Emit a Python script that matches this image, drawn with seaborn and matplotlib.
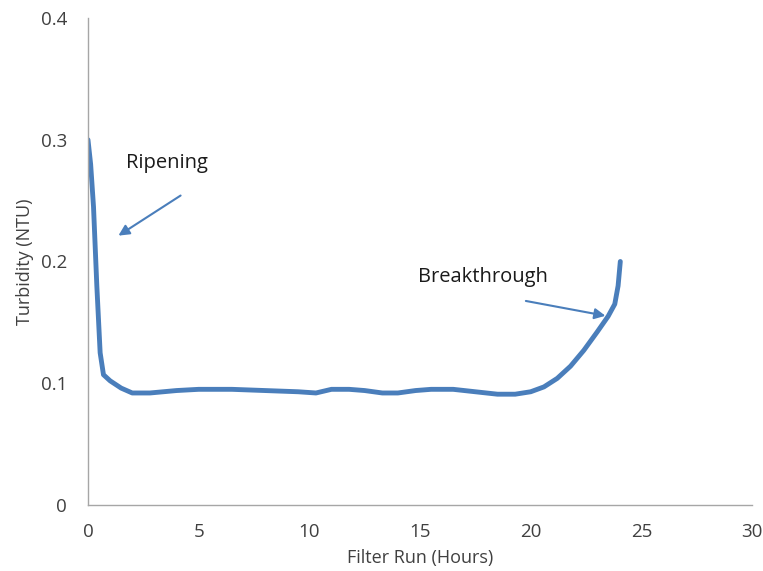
import numpy as np
import pandas as pd
import matplotlib
matplotlib.use("Agg")
import matplotlib.pyplot as plt
import seaborn as sns

# values
hours = [0.0, 0.12, 0.25, 0.4, 0.55, 0.7, 1.0, 1.5, 2.0, 2.8, 4.0, 5.0, 6.5, 8.0, 9.5,
         10.3, 11.0, 11.8, 12.5, 13.3, 14.0, 14.8, 15.5, 16.5, 17.5, 18.5, 19.3, 20.0,
         20.6, 21.2, 21.8, 22.4, 23.0, 23.5, 23.8, 23.95, 24.05]
turbidity = [0.300, 0.280, 0.245, 0.180, 0.125, 0.107, 0.102, 0.096, 0.092, 0.092, 0.094,
             0.095, 0.095, 0.094, 0.093, 0.092, 0.095, 0.095, 0.094, 0.092, 0.092, 0.094,
             0.095, 0.095, 0.093, 0.091, 0.091, 0.093, 0.097, 0.104, 0.114, 0.127, 0.142,
             0.155, 0.165, 0.18, 0.20]

df = pd.DataFrame({"Filter Run (Hours)": hours, "Turbidity (NTU)": turbidity})

sns.set_style("white")
plt.rcParams['font.family'] = ['Open Sans', 'DejaVu Sans']

fig = plt.figure(figsize=(7.63, 5.71), dpi=100)
ax = fig.add_axes([0.1153, 0.1156, 0.8703, 0.8529])

sns.lineplot(data=df, x="Filter Run (Hours)", y="Turbidity (NTU)", ax=ax,
             color="#4A7EBB", linewidth=3.5, sort=False, estimator=None,
             solid_capstyle="round", solid_joinstyle="round")

ax.set_xlim(0, 30)
ax.set_ylim(0, 0.4)
ax.set_xticks([0, 5, 10, 15, 20, 25, 30])
ax.set_yticks([0, 0.1, 0.2, 0.3, 0.4])
ax.set_yticklabels(["0", "0.1", "0.2", "0.3", "0.4"])

for side in ["top", "right"]:
    ax.spines[side].set_visible(False)
for side in ["left", "bottom"]:
    ax.spines[side].set_color("#A6A6A6")
    ax.spines[side].set_linewidth(1)
ax.tick_params(axis="both", direction="out", length=5, width=1, color="#A6A6A6",
               labelsize=13.5, labelcolor="#404040")
ax.tick_params(axis="y", pad=10)
ax.tick_params(axis="x", pad=8)
ax.set_xlabel("Filter Run (Hours)", fontsize=13, color="#404040", labelpad=6)
ax.set_ylabel("Turbidity (NTU)", fontsize=13, color="#404040", labelpad=5)

ax.annotate("", xy=(1.27, 0.220), xytext=(4.29, 0.2554),
            arrowprops=dict(arrowstyle="-|>", color="#4A7EBB", lw=1.5, mutation_scale=16))
ax.text(3.55, 0.281, "Ripening", fontsize=14.5, color="#1a1a1a", ha="center", va="center")

ax.annotate("", xy=(23.5, 0.155), xytext=(19.66, 0.168),
            arrowprops=dict(arrowstyle="-|>", color="#4A7EBB", lw=1.5, mutation_scale=16))
ax.text(17.85, 0.187, "Breakthrough", fontsize=14.5, color="#1a1a1a", ha="center", va="center")

fig.savefig("out.png", dpi=100)
